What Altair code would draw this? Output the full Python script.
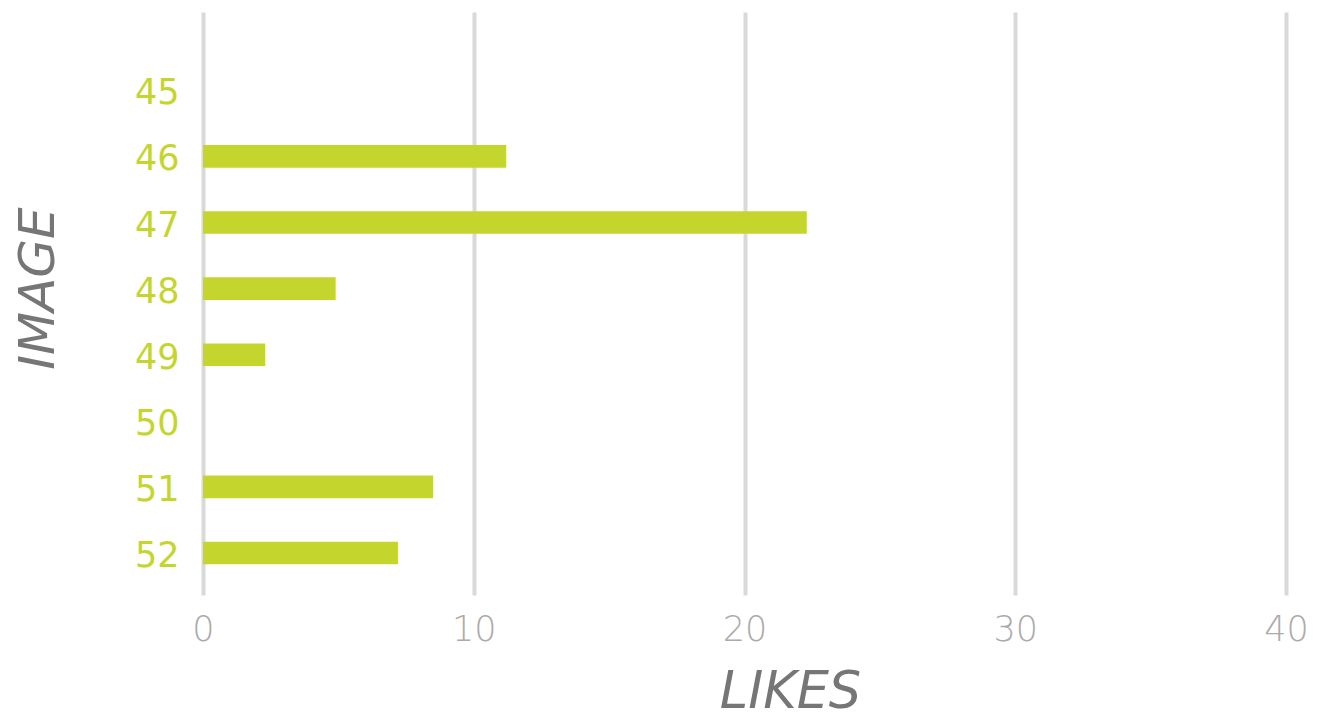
import altair as alt
import pandas as pd

images = ["45", "46", "47", "48", "49", "50", "51", "52"]
likes = [0, 11.2, 22.3, 4.9, 2.3, 0, 8.5, 7.2]
x_ticks = [0, 10, 20, 30, 40]

df = pd.DataFrame({"image": images, "likes": likes})

FONT = "DejaVu Sans"

chart = alt.Chart(df).mark_bar(color="#c4d62e").encode(
    x=alt.X(
        "likes:Q",
        scale=alt.Scale(domain=[0, 40], nice=False),
        axis=alt.Axis(
            values=x_ticks, title="LIKES", grid=True, gridColor="#d9d9d9", gridWidth=4,
            domain=False, ticks=False, labelFlush=False,
            labelFont=FONT, labelFontSize=35, labelFontWeight=200, labelColor="#ababab",
            labelPadding=17,
            titleFont=FONT, titleFontSize=51, titleFontStyle="italic", titleFontWeight=200,
            titleColor="#767676", titleX=587, titleY=112, titleAlign="center",
            titleBaseline="alphabetic",
        ),
    ),
    y=alt.Y(
        "image:N",
        sort=images,
        scale=alt.Scale(paddingInner=0.657, paddingOuter=0.739, align=0.686),
        axis=alt.Axis(
            title="IMAGE", grid=False, domain=False, ticks=False,
            labelFont=FONT, labelFontSize=35, labelFontWeight=400, labelColor="#c4d62e",
            labelPadding=24, labelOffset=3,
            titleFont=FONT, titleFontSize=50, titleFontStyle="italic", titleFontWeight=200,
            titleColor="#767676", titleX=-165, titleY=276, titleAngle=270,
            titleAlign="center", titleBaseline="middle",
        ),
    ),
).properties(
    width=1083,
    height=583,
    autosize=alt.AutoSizeParams(type="none"),
    padding={"left": 195, "top": 4, "right": 25, "bottom": 120},
).configure_view(strokeWidth=0)

chart.save("out.html", embed_options={"renderer": "svg", "actions": False})
